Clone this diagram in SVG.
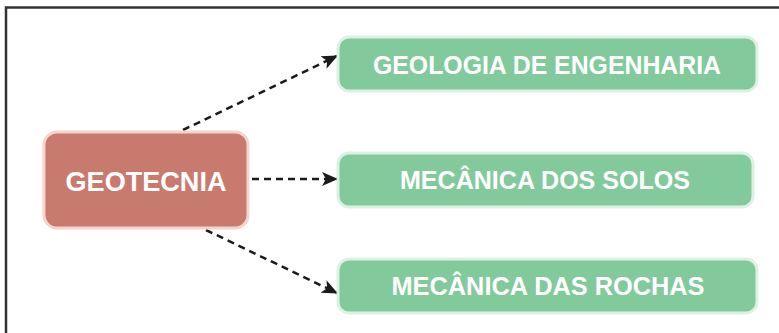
<svg xmlns="http://www.w3.org/2000/svg" width="779" height="333" viewBox="0 0 779 333">
<defs>
<marker id="arr" markerUnits="userSpaceOnUse" markerWidth="16" markerHeight="16" viewBox="0 0 16 16" refX="15" refY="8" orient="auto">
<path d="M0,1 L16,8 L0,15 L4,8 z" fill="#1a1a1a"/>
</marker>
<style>
.frame{fill:none;stroke:#333;stroke-width:2.5}
.main{fill:#C97A6F;stroke:#F3D5CE;stroke-width:3}
.sub{fill:#82CA9C;stroke:#DDF1E2;stroke-width:3}
.t{font-family:"Liberation Sans",Arial,sans-serif;font-weight:bold;fill:#fff;text-anchor:middle}
.c{fill:none;stroke:#1a1a1a;stroke-width:2.5;stroke-dasharray:7 5;marker-end:url(#arr)}
</style>
</defs>
<rect width="779" height="333" fill="#fff"/>
<path class="frame" d="M6,333 V7.5 H779"/>
<g id="connectors">
<line class="c" x1="183" y1="130" x2="337" y2="56"/>
<line class="c" x1="252" y1="179" x2="337" y2="179"/>
<line class="c" x1="206" y1="230" x2="337" y2="293"/>
</g>
<g id="geotecnia">
<rect class="main" x="44" y="132" width="204" height="96" rx="13"/>
<text class="t" x="146" y="191" font-size="27" textLength="161" lengthAdjust="spacingAndGlyphs">GEOTECNIA</text>
</g>
<g id="geologia">
<rect class="sub" x="338" y="37" width="419" height="54" rx="11"/>
<text class="t" x="547" y="74" font-size="25" textLength="348" lengthAdjust="spacingAndGlyphs">GEOLOGIA DE ENGENHARIA</text>
</g>
<g id="solos">
<rect class="sub" x="338" y="153" width="415" height="54" rx="11"/>
<text class="t" x="545" y="189" font-size="25" textLength="290" lengthAdjust="spacingAndGlyphs">MECÂNICA DOS SOLOS</text>
</g>
<g id="rochas">
<rect class="sub" x="338" y="259" width="419" height="54" rx="11"/>
<text class="t" x="548" y="295" font-size="25" textLength="313" lengthAdjust="spacingAndGlyphs">MECÂNICA DAS ROCHAS</text>
</g>
</svg>
